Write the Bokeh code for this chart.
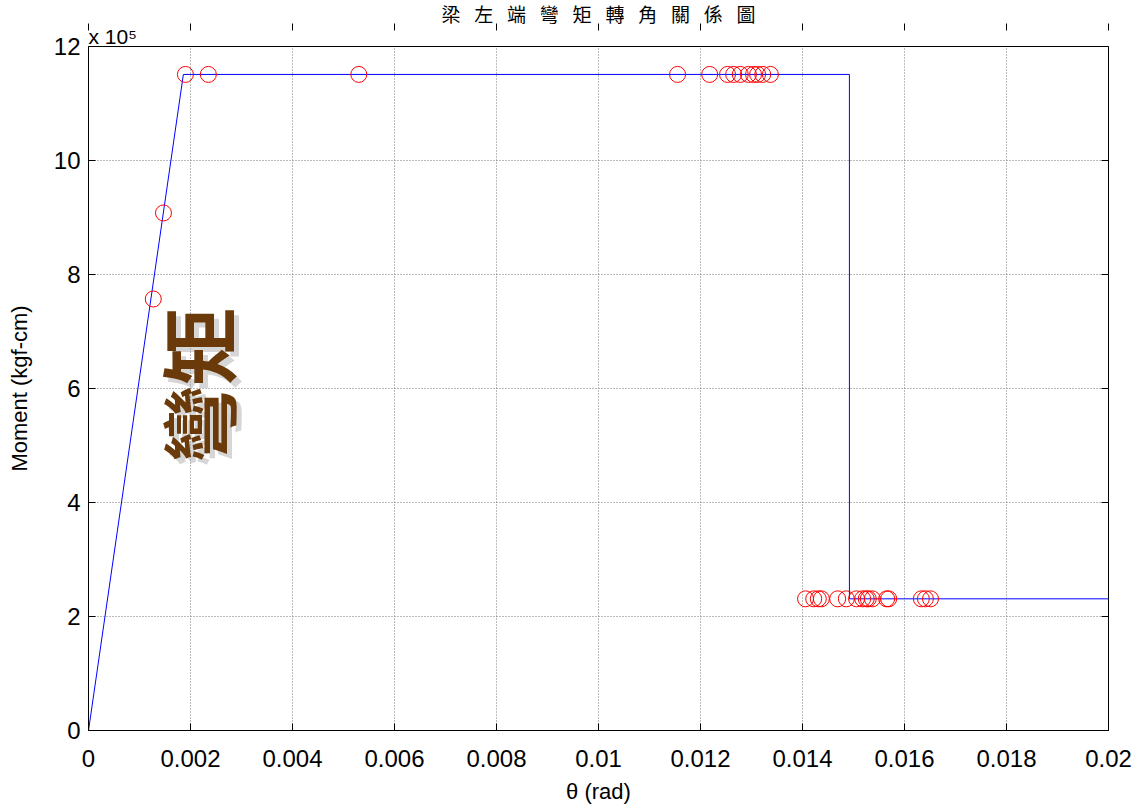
from bokeh.plotting import figure
from bokeh.models import Range1d, FixedTicker, LinearAxis, Label, Title
from bokeh.embed import file_html
from bokeh.resources import INLINE

# ---- data ----
line_theta = [0.0, 0.00186, 0.01492, 0.01492, 0.02]
line_moment = [0.0, 11.51e5, 11.51e5, 2.31e5, 2.31e5]

pts_theta = [0.00127, 0.00147, 0.00190, 0.00235, 0.00530, 0.01155, 0.01218,
             0.01253, 0.01265, 0.01278, 0.01294, 0.01304, 0.01312, 0.01322, 0.01337,
             0.01406, 0.01422, 0.01431, 0.01437, 0.01469, 0.01486, 0.01506,
             0.01518, 0.01525, 0.01529, 0.01537, 0.01565, 0.01569,
             0.01633, 0.01641, 0.01651]
pts_moment = [7.57e5, 9.08e5] + [11.51e5] * 13 + [2.31e5] * 16

x_ticks = [0, 0.002, 0.004, 0.006, 0.008, 0.01, 0.012, 0.014, 0.016, 0.018, 0.02]
x_tick_labels = ["0", "0.002", "0.004", "0.006", "0.008", "0.01", "0.012",
                 "0.014", "0.016", "0.018", "0.02"]
y_ticks = [0, 2e5, 4e5, 6e5, 8e5, 10e5, 12e5]
y_tick_labels = ["0", "2", "4", "6", "8", "10", "12"]

title_chars = ["梁", "左", "端", "彎", "矩", "轉", "角", "關", "係", "圖"]
exponent_text = "x 10\u2075"
x_label = "θ (rad)"
y_label = "Moment (kgf-cm)"
overlay_text = "彎矩"

FONT = "Liberation Sans"

p = figure(width=1134, height=806, output_backend="svg", toolbar_location=None,
           x_range=Range1d(0, 0.02), y_range=Range1d(0, 12e5),
           min_border_left=88, min_border_right=26, min_border_top=30,
           min_border_bottom=73)
p.background_fill_color = "white"
p.border_fill_color = "white"
p.outline_line_color = "black"
p.outline_line_width = 1

# main title (outermost) and exponent marker (closer to the frame)
p.title.text = "\u2002 ".join(title_chars)
p.title.text_font = "Noto Sans CJK TC"
p.title.text_font_size = "19px"
p.title.text_font_style = "normal"
p.title.align = "center"
p.title.standoff = -6
p.title.text_color = "black"
p.title.text_line_height = 0.8

exp_title = Title(text=exponent_text, align="left", text_font=FONT,
                  text_font_size="21px", text_font_style="normal",
                  text_color="black", standoff=-2, text_line_height=0.8)
p.add_layout(exp_title, "above")

# grid
for g in (p.xgrid, p.ygrid):
    g.grid_line_color = "#777777"
    g.grid_line_dash = "1 2"
    g.grid_line_width = 1

p.xgrid.ticker = FixedTicker(ticks=x_ticks)
p.ygrid.ticker = FixedTicker(ticks=y_ticks)

def style_axis(ax, ticks):
    ax.ticker = FixedTicker(ticks=ticks)
    ax.minor_tick_line_color = None
    ax.major_tick_in = 7
    ax.major_tick_out = 0
    ax.major_tick_line_color = "black"
    ax.axis_line_color = "black"
    ax.major_label_text_font = FONT
    ax.major_label_text_font_size = "24px"
    ax.major_label_text_color = "black"

xa = p.xaxis[0]
style_axis(xa, x_ticks)
xa.major_label_overrides = {t: l for t, l in zip(x_ticks, x_tick_labels)}
xa.axis_label = x_label
xa.axis_label_text_font = FONT
xa.axis_label_text_font_size = "22px"
xa.axis_label_text_font_style = "normal"
xa.axis_label_text_color = "black"
xa.axis_label_standoff = 9
xa.major_label_standoff = 19

ya = p.yaxis[0]
style_axis(ya, y_ticks)
ya.major_label_overrides = {t: l for t, l in zip(y_ticks, y_tick_labels)}
ya.axis_label = y_label
ya.axis_label_text_font = FONT
ya.axis_label_text_font_size = "22px"
ya.axis_label_text_font_style = "normal"
ya.axis_label_text_color = "black"
ya.axis_label_standoff = 19
ya.major_label_standoff = 8

top = LinearAxis()
style_axis(top, x_ticks)
top.axis_line_color = None
top.major_label_text_font_size = "0px"
top.major_label_standoff = 0
top.axis_label_standoff = 0
top.major_label_overrides = {t: "" for t in x_ticks}
p.add_layout(top, "above")
right = LinearAxis()
style_axis(right, y_ticks)
right.axis_line_color = None
right.major_label_text_font_size = "0px"
right.major_label_standoff = 0
right.axis_label_standoff = 0
right.major_label_overrides = {t: "" for t in y_ticks}
p.add_layout(right, "right")

# data
p.line(line_theta, line_moment, line_color="blue", line_width=1)
p.scatter(pts_theta, pts_moment, marker="circle", size=16, fill_color=None,
          line_color="red", line_width=1)

# overlay watermark text with shadow
p.add_layout(Label(x=0.0021, y=6.05e5, x_offset=5, y_offset=-5, text=overlay_text,
                   angle=90, angle_units="deg", text_font="Noto Sans CJK TC",
                   text_font_style="bold", text_font_size="78px",
                   text_align="center", text_baseline="middle",
                   text_color="#999999", text_alpha=0.4))
p.add_layout(Label(x=0.0021, y=6.05e5, text=overlay_text,
                   angle=90, angle_units="deg", text_font="Noto Sans CJK TC",
                   text_font_style="bold", text_font_size="78px",
                   text_align="center", text_baseline="middle",
                   text_color="#6B3A0A"))

open("out.html", "w").write(file_html(p, INLINE))
